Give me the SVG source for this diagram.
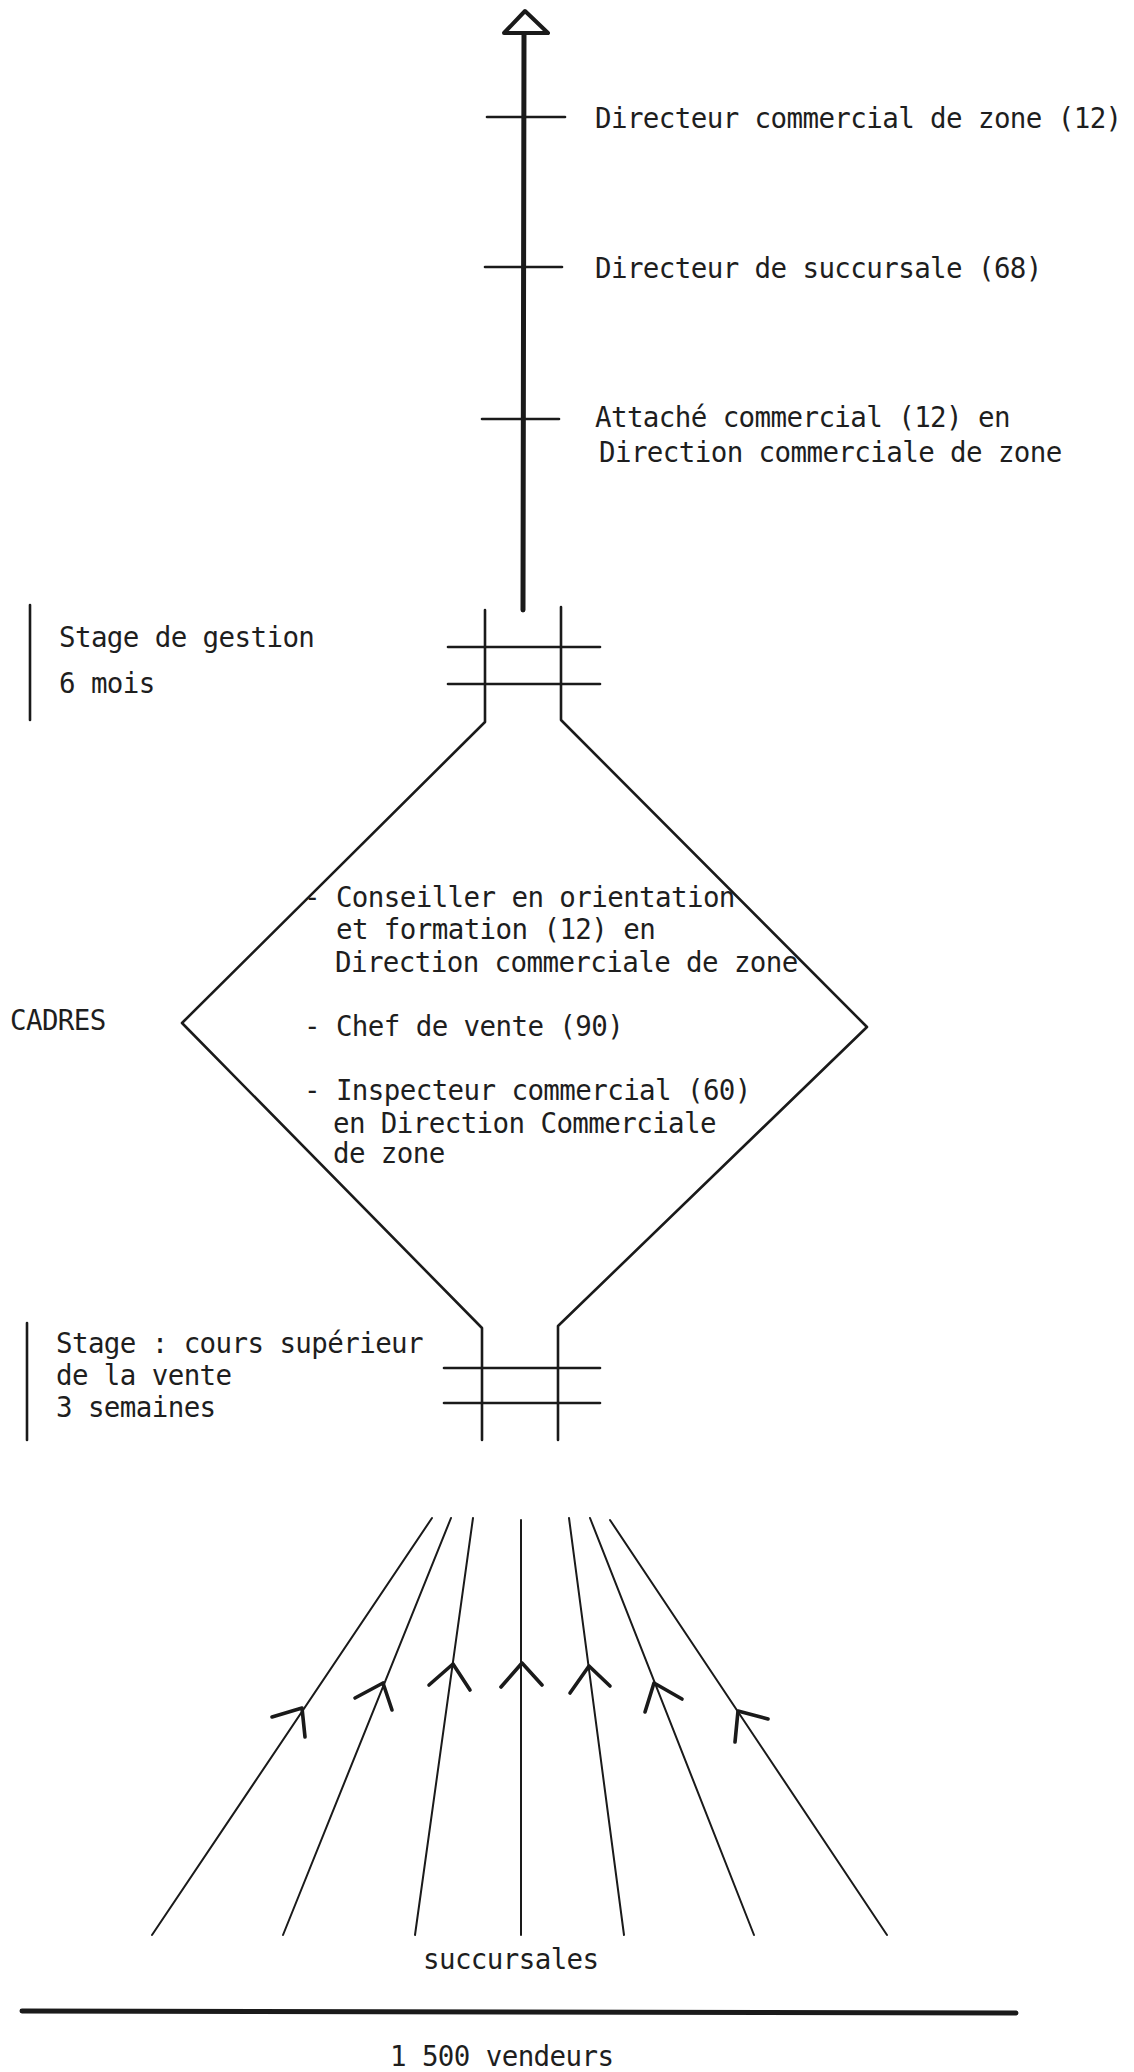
<svg xmlns="http://www.w3.org/2000/svg" width="1134" height="2072" viewBox="0 0 1134 2072">
<style>
text{font-family:"DejaVu Sans Mono","Liberation Mono",monospace;font-size:27.5px;letter-spacing:-0.6px;fill:#1e1e1e}
.ln{stroke:#1a1a1a;fill:none;stroke-linecap:round;stroke-linejoin:round}
.thin{stroke-width:2}
.mid{stroke-width:2.6}
.thick{stroke-width:5}
.barb{stroke-width:3.6}
</style>
<rect width="1134" height="2072" fill="#ffffff"/>
<g id="career-axis">
<line class="ln thick" x1="524" y1="34" x2="523" y2="610"/>
<polygon class="ln" stroke-width="4" fill="#ffffff" points="525,11 548,33 504,33"/>
<line class="ln mid" x1="487" y1="117" x2="565" y2="117"/>
<line class="ln mid" x1="485" y1="267" x2="562" y2="267"/>
<line class="ln mid" x1="482" y1="419" x2="559" y2="419"/>
</g>
<g id="node-directeur-zone"><text x="595" y="128">Directeur commercial de zone (12)</text></g>
<g id="node-directeur-succursale"><text x="595" y="278">Directeur de succursale (68)</text></g>
<g id="node-attache"><text x="595" y="427">Attaché commercial (12) en</text><text x="599" y="462">Direction commerciale de zone</text></g>
<g id="node-stage-gestion">
<line class="ln mid" x1="30" y1="605" x2="30" y2="720"/>
<text x="59" y="647">Stage de gestion</text>
<text x="59" y="693">6 mois</text>
</g>
<g id="node-cadres-funnel">
<path class="ln mid" d="M485,610 L485,722 L182,1023 L482,1328 L482,1440"/>
<path class="ln mid" d="M561,607 L561,720 L867,1027 L558,1326 L558,1440"/>
<line class="ln mid" x1="448" y1="647" x2="600" y2="647"/>
<line class="ln mid" x1="448" y1="684" x2="600" y2="684"/>
<line class="ln mid" x1="444" y1="1368" x2="600" y2="1368"/>
<line class="ln mid" x1="444" y1="1403" x2="600" y2="1403"/>
</g>
<g id="node-cadres"><text x="10" y="1030">CADRES</text></g>
<g id="node-conseiller"><text x="304" y="907">- Conseiller en orientation</text><text x="336" y="939">et formation (12) en</text><text x="335" y="972">Direction commerciale de zone</text></g>
<g id="node-chef-vente"><text x="304" y="1036">- Chef de vente (90)</text></g>
<g id="node-inspecteur"><text x="304" y="1100">- Inspecteur commercial (60)</text><text x="333" y="1133">en Direction Commerciale</text><text x="333" y="1163">de zone</text></g>
<g id="node-stage-vente">
<line class="ln mid" x1="27" y1="1323" x2="27" y2="1440"/>
<text x="56" y="1353">Stage : cours supérieur</text>
<text x="56" y="1385">de la vente</text>
<text x="56" y="1417">3 semaines</text>
</g>
<g id="connectors">
<line class="ln thin" x1="152" y1="1935" x2="432" y2="1518"/>
<line class="ln thin" x1="283" y1="1935" x2="451" y2="1518"/>
<line class="ln thin" x1="415" y1="1935" x2="473" y2="1518"/>
<line class="ln thin" x1="521" y1="1935" x2="521" y2="1520"/>
<line class="ln thin" x1="624" y1="1935" x2="569" y2="1518"/>
<line class="ln thin" x1="754" y1="1935" x2="590" y2="1518"/>
<line class="ln thin" x1="887" y1="1935" x2="610" y2="1520"/>
<polyline class="ln barb" points="272,1717 302,1708 305,1737"/>
<polyline class="ln barb" points="355,1698 383,1683 392,1710"/>
<polyline class="ln barb" points="429,1685 453,1664 470,1690"/>
<polyline class="ln barb" points="501,1687 522,1663 542,1685"/>
<polyline class="ln barb" points="570,1693 589,1666 610,1686"/>
<polyline class="ln barb" points="645,1712 654,1683 682,1699"/>
<polyline class="ln barb" points="735,1742 738,1711 768,1719"/>
</g>
<g id="node-succursales"><text x="423" y="1969">succursales</text></g>
<g id="node-vendeurs">
<line class="ln" stroke-width="5" x1="22" y1="2011" x2="1016" y2="2013"/>
<text x="390" y="2066">1 500 vendeurs</text>
</g>
</svg>
